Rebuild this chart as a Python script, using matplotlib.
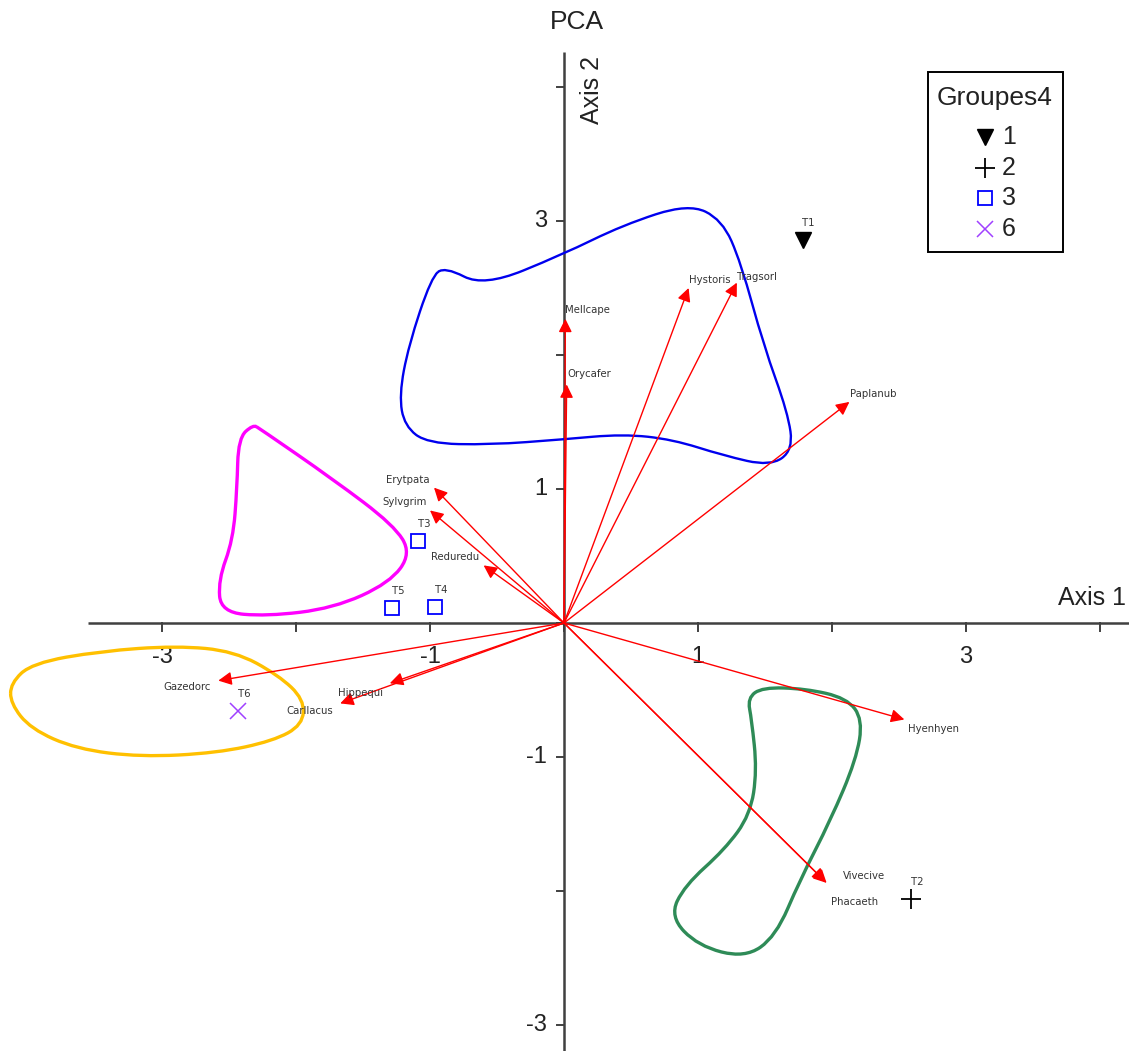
import matplotlib
matplotlib.use("Agg")
import matplotlib.pyplot as plt
from matplotlib.path import Path
from matplotlib.patches import PathPatch, Rectangle

# ---- data -----------------------------------------------------------------
variables = ["Mellcape", "Orycafer", "Hystoris", "Tragsorl", "Paplanub",
             "Erytpata", "Sylvgrim", "Reduredu", "Gazedorc", "Hippequi",
             "Carllacus", "Hyenhyen", "Phacaeth", "Vivecive"]
load_x = [0.01, 0.02, 0.93, 1.29, 2.13, -0.97, -1.00, -0.60, -2.58, -1.30,
          -1.67, 2.54, 1.96, 1.95]
load_y = [2.27, 1.78, 2.50, 2.54, 1.65, 1.01, 0.84, 0.43, -0.43, -0.45,
          -0.60, -0.72, -1.94, -1.93]

sites = ["T1", "T2", "T3", "T4", "T5", "T6"]
site_x = [1.78, 2.59, -1.09, -0.96, -1.28, -2.43]
site_y = [2.86, -2.06, 0.61, 0.12, 0.11, -0.66]
site_group = ["1", "2", "3", "3", "3", "6"]

groups = ["1", "2", "3", "6"]

# group envelopes (outline vertices, axis units)
env_blue_x = [-0.89, -0.60, -0.01, 0.44, 0.93, 1.18, 1.32, 1.49, 1.67, 1.71,
              1.54, 1.19, 0.81, 0.44, -0.01, -0.55, -1.02, -1.19, -1.23, -1.16, -0.99]
env_blue_y = [2.66, 2.51, 2.75, 2.97, 3.13, 3.01, 2.69, 2.07, 1.57, 1.29,
              1.17, 1.25, 1.37, 1.41, 1.37, 1.33, 1.34, 1.47, 1.70, 2.07, 2.58]
env_magenta_x = [-2.32, -2.43, -2.44, -2.47, -2.58, -2.56, -2.22, -1.72, -1.30,
                 -1.14, -1.27, -1.72, -2.27]
env_magenta_y = [1.48, 1.38, 1.01, 0.62, 0.32, 0.08, 0.05, 0.11, 0.30,
                 0.52, 0.73, 1.07, 1.45]
env_yellow_x = [-4.13, -3.97, -3.46, -2.89, -2.46, -2.13, -1.94, -1.95, -2.17,
                -2.59, -3.16, -3.64, -3.98, -4.13]
env_yellow_y = [-0.45, -0.30, -0.21, -0.17, -0.21, -0.39, -0.57, -0.76, -0.88,
                -0.97, -1.00, -0.94, -0.79, -0.60]
env_green_x = [1.37, 1.48, 1.80, 2.11, 2.23, 2.18, 1.99, 1.76, 1.58, 1.35,
               1.00, 0.79, 0.90, 1.20, 1.39, 1.44, 1.40]
env_green_y = [-0.56, -0.48, -0.49, -0.56, -0.72, -1.02, -1.47, -1.92, -2.34,
               -2.50, -2.41, -2.19, -1.96, -1.69, -1.43, -1.10, -0.72]

# ---- figure ---------------------------------------------------------------
W, H = 1129, 1051
fig = plt.figure(figsize=(W / 100, H / 100), dpi=100)
ax = fig.add_axes([0, 0, 1, 1])
ox, oy, unit = 564, 623, 134.0
ax.set_xlim(-ox / unit, (W - ox) / unit)
ax.set_ylim((oy - H) / unit, oy / unit)
ax.axis("off")

FONT = ["Liberation Sans", "DejaVu Sans"]
SMALL = ["DejaVu Sans"]
TXT = "#222222"
AXC = "#404040"


def fx(px):
    return px / W


def fy(py):
    return 1 - py / H


# axes through the origin
ax.plot([-3.55, 4.25], [0, 0], color=AXC, lw=1.8, solid_capstyle="butt", zorder=2)
ax.plot([0, 0], [-3.3, 4.26], color=AXC, lw=1.8, solid_capstyle="butt", zorder=2)
tick_len = 8 / unit
for t in range(-3, 5):
    ax.plot([t, t], [0, -tick_len], color=AXC, lw=1.4, zorder=2)
    ax.plot([0, -tick_len * 0.9], [t, t], color=AXC, lw=1.4, zorder=2)
for t in [-3, -1, 1, 3]:
    ax.text(t, -34 / unit, str(t), ha="center", va="center", fontsize=17,
            family=FONT, color=TXT)
    ax.text(-17 / unit, t, str(t), ha="right", va="center", fontsize=17,
            family=FONT, color=TXT)

fig.text(fx(577), fy(22), "PCA", ha="center", va="center", fontsize=19,
         family=FONT, color=TXT)
fig.text(fx(1092), fy(598), "Axis 1", ha="center", va="center", fontsize=18,
         family=FONT, color=TXT)
fig.text(fx(592), fy(90), "Axis 2", ha="center", va="center", fontsize=18,
         rotation=90, family=FONT, color=TXT)


# group envelopes
def smooth_closed(xs, ys):
    pts = list(zip(xs, ys))
    n = len(pts)
    mids = [((pts[i][0] + pts[(i + 1) % n][0]) / 2,
             (pts[i][1] + pts[(i + 1) % n][1]) / 2) for i in range(n)]
    verts = [mids[-1]]
    codes = [Path.MOVETO]
    for i in range(n):
        verts += [pts[i], mids[i]]
        codes += [Path.CURVE3, Path.CURVE3]
    return Path(verts, codes)


for ex, ey, col, lw in [(env_blue_x, env_blue_y, "#0000EE", 1.7),
                        (env_magenta_x, env_magenta_y, "#FF00FF", 2.4),
                        (env_yellow_x, env_yellow_y, "#FFC000", 2.4),
                        (env_green_x, env_green_y, "#2E8B57", 2.4)]:
    ax.add_patch(PathPatch(smooth_closed(ex, ey), facecolor="none",
                           edgecolor=col, lw=lw, zorder=3))

# loading arrows
label_offsets = {
    "Mellcape": (0, 9, "left"), "Orycafer": (1, 10, "left"),
    "Hystoris": (0, 8, "left"), "Tragsorl": (0, 6, "left"),
    "Paplanub": (1, 8, "left"), "Erytpata": (-26, 8, "center"),
    "Sylvgrim": (-25, 8, "center"), "Reduredu": (-29, 8, "center"),
    "Gazedorc": (-31, -6, "center"), "Hippequi": (-29, -10, "center"),
    "Carllacus": (-30, -8, "center"), "Hyenhyen": (29, -10, "center"),
    "Phacaeth": (28, -19, "center"), "Vivecive": (39, 6, "center"),
}
for name, lx, ly in zip(variables, load_x, load_y):
    ax.annotate("", xy=(lx, ly), xytext=(0, 0),
                arrowprops=dict(arrowstyle="-|>", color="red", lw=1.0,
                                mutation_scale=20, shrinkA=0, shrinkB=0),
                zorder=4)
    dx, dy, ha = label_offsets[name]
    ax.annotate(name, xy=(lx, ly), xytext=(dx * 0.72, dy * 0.72),
                textcoords="offset points", ha=ha, va="center", fontsize=7.3,
                family=SMALL, color="#333333", zorder=5)

# sites
styles = {
    "1": dict(marker="v", color="black", ms=11, mfc="black", mew=1),
    "2": dict(marker="+", color="black", ms=14, mew=1.3),
    "3": dict(marker="s", color="#0000FF", ms=10, mfc="none", mew=1.3),
    "6": dict(marker="x", color="#A040FF", ms=12, mew=1.1),
}
for s, x, y, g in zip(sites, site_x, site_y, site_group):
    ax.plot([x], [y], linestyle="none", zorder=6, **styles[g])
    ax.annotate(s, xy=(x, y), xytext=(6 * 0.72, 17 * 0.72),
                textcoords="offset points", ha="center", va="center",
                fontsize=7.3, family=SMALL, color="#333333", zorder=6)

# legend
ax.add_patch(Rectangle((fx(928), fy(252)), fx(1063) - fx(928),
                       fy(72) - fy(252), transform=ax.transAxes,
                       facecolor="none", edgecolor="black", lw=1.4,
                       clip_on=False, zorder=7))
ax.text(fx(995), fy(98), "Groupes4", ha="center", va="center", fontsize=19,
        family=FONT, color=TXT, transform=ax.transAxes, zorder=8)
for i, g in enumerate(groups):
    ypx = 137 + i * 30.7
    ax.plot([fx(985)], [fy(ypx)], transform=ax.transAxes, linestyle="none",
            clip_on=False, zorder=9, **styles[g])
    ax.text(fx(1002), fy(ypx), g, ha="left", va="center", fontsize=18,
            family=FONT, color=TXT, transform=ax.transAxes, zorder=9)

fig.savefig("out.png", dpi=100)
